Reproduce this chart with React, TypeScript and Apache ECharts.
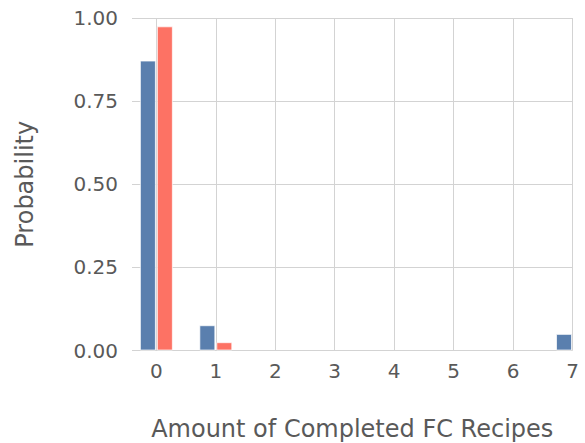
import React, { useEffect, useRef } from "react";
import * as echarts from "echarts";

// Number of completed FC recipes and the probability of each count
const recipeCounts = [0, 1, 2, 3, 4, 5, 6, 7];
const probabilityA = [0.872, 0.076, 0, 0, 0, 0, 0, 0.05];
const probabilityB = [0.975, 0.025, 0, 0, 0, 0, 0, 0];

const BLUE = "#5a7fae";
const RED = "#fd7264";
const GRID = "#d3d3d3";
const TEXT = "#595959";
const FONT = "DejaVu Sans";

// Pair up counts with probabilities, skipping empty bins
const toPoints = (values: number[]) =>
  recipeCounts
    .map((c, i) => [c, values[i]])
    .filter((p) => p[1] > 0);

export default function App() {
  const ref = useRef<HTMLDivElement>(null);

  useEffect(() => {
    if (!ref.current) return;
    const chart = echarts.init(ref.current, undefined, { renderer: "svg" });
    chart.setOption({
      animation: false,
      backgroundColor: "#ffffff",
      grid: {
        left: 132,
        right: 12.5,
        top: 18,
        bottom: 92.5,
        containLabel: false,
        outerBoundsMode: "none",
      },
      xAxis: {
        type: "value",
        min: -0.41,
        max: 7,
        name: "Amount of Completed FC Recipes",
        nameLocation: "middle",
        nameGap: 66,
        nameTextStyle: { fontFamily: FONT, fontSize: 24, color: TEXT },
        axisLine: { show: false },
        axisTick: { show: false, customValues: recipeCounts },
        axisLabel: {
          customValues: recipeCounts,
          fontFamily: FONT,
          fontSize: 20,
          color: TEXT,
          margin: 10,
        },
        splitLine: { show: true, lineStyle: { color: GRID, width: 1 } },
      },
      yAxis: {
        type: "value",
        min: 0,
        max: 1,
        interval: 0.25,
        name: "Probability",
        nameLocation: "middle",
        nameGap: 95,
        nameTextStyle: { fontFamily: FONT, fontSize: 24, color: TEXT },
        axisLine: { show: false },
        axisTick: { show: false },
        axisLabel: {
          fontFamily: FONT,
          fontSize: 20,
          color: TEXT,
          margin: 14,
          formatter: (v: number) => v.toFixed(2),
        },
        splitLine: { show: true, lineStyle: { color: GRID, width: 1 } },
      },
      series: [
        {
          type: "bar",
          name: "A",
          data: toPoints(probabilityA),
          barWidth: 16,
          barGap: "6%",
          itemStyle: { color: BLUE, borderColor: "rgba(255,255,255,0.7)", borderWidth: 1 },
        },
        {
          type: "bar",
          name: "B",
          data: toPoints(probabilityB),
          barWidth: 16,
          barGap: "6%",
          itemStyle: { color: RED, borderColor: "rgba(255,255,255,0.7)", borderWidth: 1 },
        },
      ],
    });
    return () => chart.dispose();
  }, []);

  return (
    <div
      ref={ref}
      style={{ position: "fixed", left: 0, top: 0, width: 585, height: 443 }}
    />
  );
}
